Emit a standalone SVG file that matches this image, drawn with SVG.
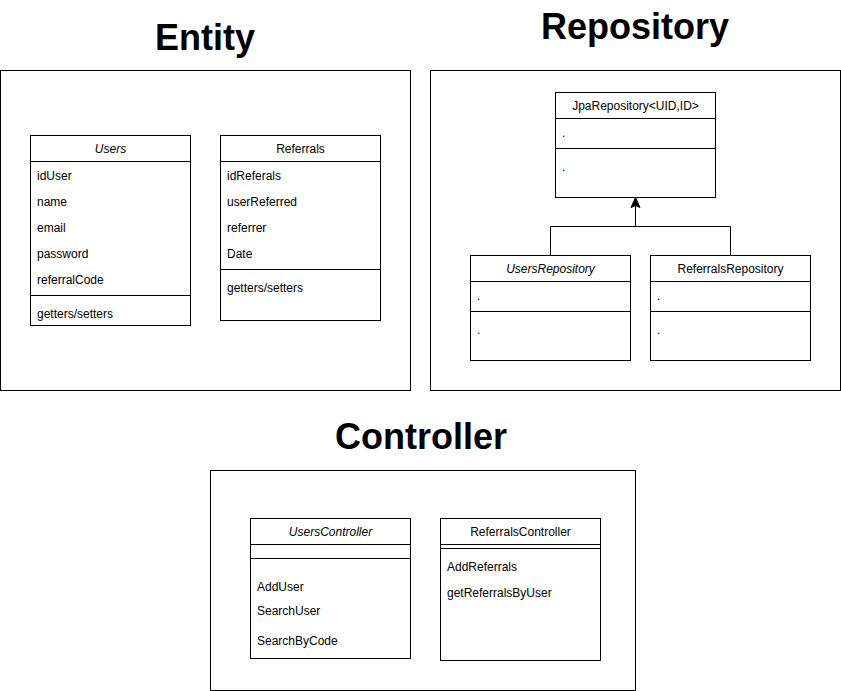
<svg xmlns="http://www.w3.org/2000/svg" width="841" height="691" viewBox="0 0 841 691">
<defs>
<style>
.frame{fill:#fff;stroke:#000;stroke-width:1}
.box{fill:#fff;stroke:#000;stroke-width:1}
.ln{stroke:#000;stroke-width:1;fill:none}
text{font-family:"Liberation Sans",Arial,sans-serif;font-size:12px;fill:#000}
.title{font-size:36px;font-weight:bold;text-anchor:middle}
.hd{text-anchor:middle}
.it{font-style:italic}
</style>
</defs>
<rect width="841" height="691" fill="#fff"/>
<g id="titles">
<text class="title" x="205" y="50">Entity</text>
<text class="title" x="635" y="39">Repository</text>
<text class="title" x="421" y="449">Controller</text>
</g>
<g id="frames">
<rect class="frame" x="0.5" y="70.5" width="410" height="320"/>
<rect class="frame" x="430.5" y="70.5" width="410" height="320"/>
<rect class="frame" x="210.5" y="470.5" width="425" height="220"/>
</g>
<g id="Users">
<rect class="box" x="30.5" y="135.5" width="160" height="190"/>
<line class="ln" x1="30.5" y1="161.5" x2="190.5" y2="161.5"/>
<line class="ln" x1="30.5" y1="295.5" x2="190.5" y2="295.5"/>
<text class="hd it" x="110.5" y="153">Users</text>
<text x="37" y="180">idUser</text>
<text x="37" y="206">name</text>
<text x="37" y="232">email</text>
<text x="37" y="258">password</text>
<text x="37" y="284">referralCode</text>
<text x="37" y="318">getters/setters</text>
</g>
<g id="Referrals">
<rect class="box" x="220.5" y="135.5" width="160" height="185"/>
<line class="ln" x1="220.5" y1="161.5" x2="380.5" y2="161.5"/>
<line class="ln" x1="220.5" y1="269.5" x2="380.5" y2="269.5"/>
<text class="hd" x="300.5" y="153">Referrals</text>
<text x="227" y="180">idReferals</text>
<text x="227" y="206">userReferred</text>
<text x="227" y="232">referrer</text>
<text x="227" y="258">Date</text>
<text x="227" y="292">getters/setters</text>
</g>
<g id="JpaRepository">
<rect class="box" x="555.5" y="92.5" width="160" height="105"/>
<line class="ln" x1="555.5" y1="118.5" x2="715.5" y2="118.5"/>
<line class="ln" x1="555.5" y1="148.5" x2="715.5" y2="148.5"/>
<text class="hd" x="635.5" y="110">JpaRepository&lt;UID,ID&gt;</text>
<text x="562" y="137">.</text>
<text x="562" y="171">.</text>
</g>
<g id="UsersRepository">
<rect class="box" x="470.5" y="255.5" width="160" height="105"/>
<line class="ln" x1="470.5" y1="281.5" x2="630.5" y2="281.5"/>
<line class="ln" x1="470.5" y1="311.5" x2="630.5" y2="311.5"/>
<text class="hd it" x="550.5" y="273">UsersRepository</text>
<text x="477" y="300">.</text>
<text x="477" y="334">.</text>
</g>
<g id="ReferralsRepository">
<rect class="box" x="650.5" y="255.5" width="160" height="105"/>
<line class="ln" x1="650.5" y1="281.5" x2="810.5" y2="281.5"/>
<line class="ln" x1="650.5" y1="311.5" x2="810.5" y2="311.5"/>
<text class="hd" x="730.5" y="273">ReferralsRepository</text>
<text x="657" y="300">.</text>
<text x="657" y="334">.</text>
</g>
<g id="UsersController">
<rect class="box" x="250.5" y="518.5" width="160" height="140"/>
<line class="ln" x1="250.5" y1="544.5" x2="410.5" y2="544.5"/>
<line class="ln" x1="250.5" y1="558.5" x2="410.5" y2="558.5"/>
<text class="hd it" x="330.5" y="536">UsersController</text>
<text x="257" y="591">AddUser</text>
<text x="257" y="615">SearchUser</text>
<text x="257" y="645">SearchByCode</text>
</g>
<g id="ReferralsController">
<rect class="box" x="440.5" y="518.5" width="160" height="142"/>
<line class="ln" x1="440.5" y1="544.5" x2="600.5" y2="544.5"/>
<line class="ln" x1="440.5" y1="548.5" x2="600.5" y2="548.5"/>
<text class="hd" x="520.5" y="536">ReferralsController</text>
<text x="447" y="571">AddReferrals</text>
<text x="447" y="597">getReferralsByUser</text>
</g>
<g id="connectors">
<path class="ln" d="M550.5 255.5 V226.5 H730.5 V255.5"/>
<line class="ln" x1="635.5" y1="226.5" x2="635.5" y2="206"/>
<path d="M635.5 197.5 L631 207.5 L635.5 205.5 L640 207.5 Z" fill="#000" stroke="#000" stroke-width="1"/>
</g>
</svg>
